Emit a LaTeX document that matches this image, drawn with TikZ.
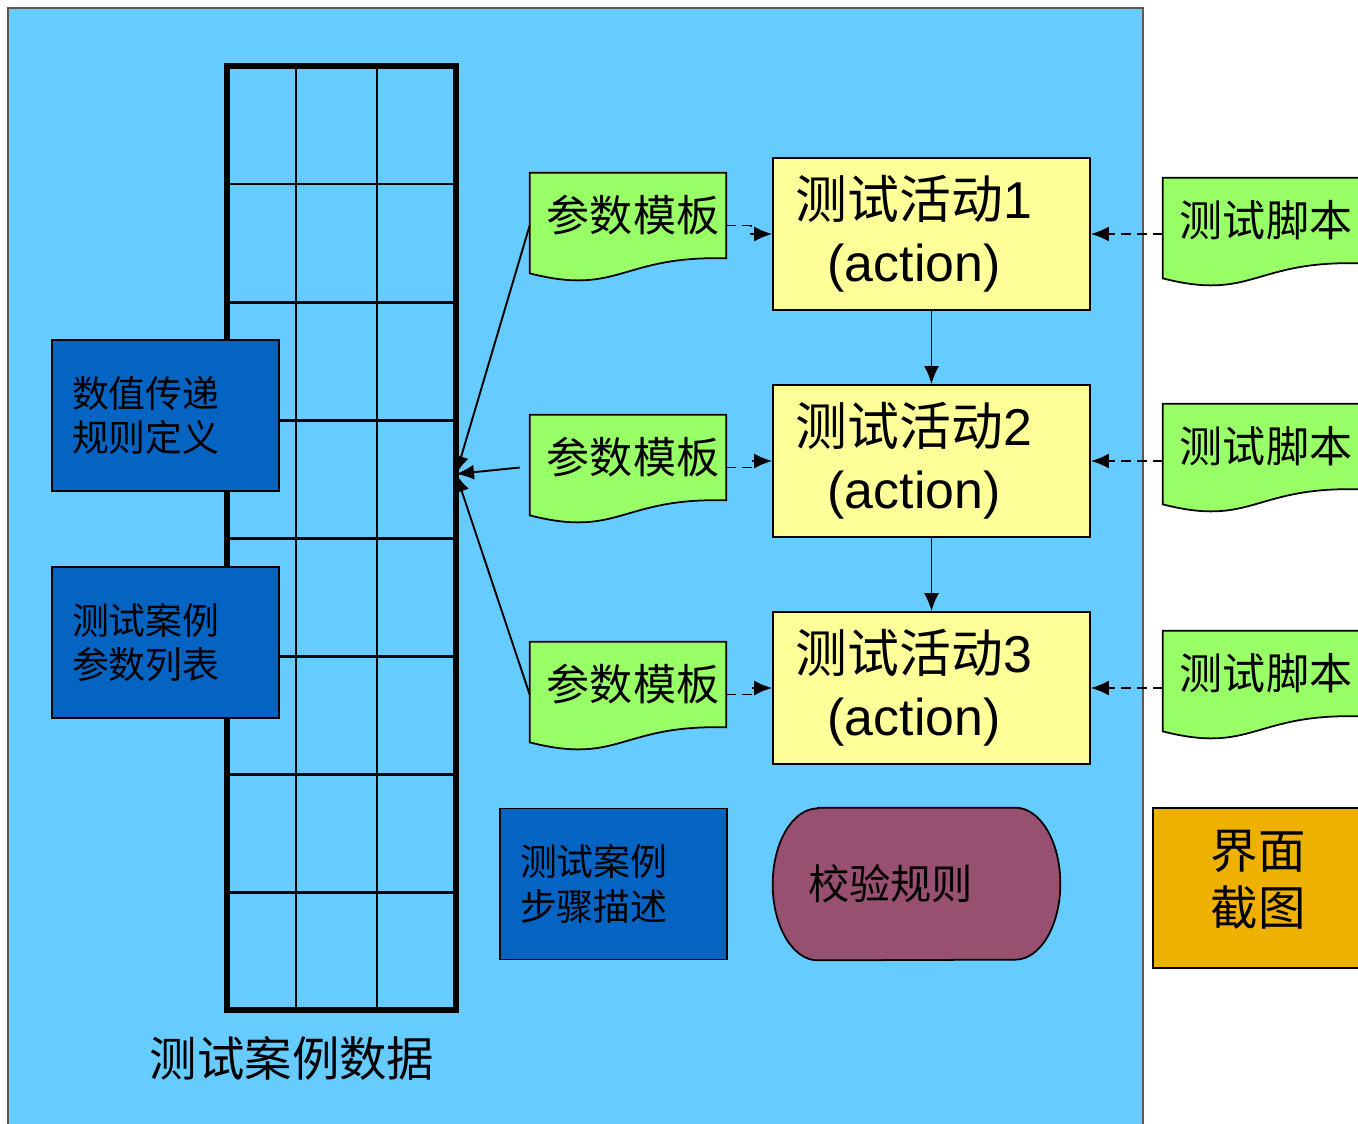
\documentclass[tikz,border=0pt]{standalone}
\usepackage{fontspec}
\setmainfont{Liberation Sans}
\newfontfamily\cjk{Noto Sans CJK SC}
\usetikzlibrary{positioning,arrows.meta,backgrounds}
\definecolor{bgblue}{HTML}{66CCFF}
\definecolor{boxblue}{HTML}{0563C1}
\definecolor{docgreen}{HTML}{99FF66}
\definecolor{actyellow}{HTML}{FFFF99}
\definecolor{rulepurple}{HTML}{985070}
\definecolor{shotorange}{HTML}{EEB100}

\tikzset{
	bluebox/.style={fill=boxblue, draw=black, line width=1pt, minimum width=4.54cm, minimum height=3.02cm, text width=3.74cm, inner xsep=0.4cm, align=left, font=\cjk\fontsize{21}{25.5}\selectfont},
	docbox/.style={minimum width=3.92cm, minimum height=2.1cm, text depth=0.5cm, font=\cjk\fontsize{24.5}{28}\selectfont},
	docline/.style={draw=black, fill=docgreen, line width=1pt},
	actbox/.style={fill=actyellow, draw=black, line width=1pt, minimum width=6.34cm, minimum height=3.04cm, align=center, font=\fontsize{29.5}{36}\selectfont},
	rulebox/.style={minimum width=5.74cm, minimum height=3.04cm, text width=4.34cm, inner xsep=0.7cm, align=left, font=\cjk\fontsize{23.5}{28}\selectfont},
	shotbox/.style={fill=shotorange, draw=black, line width=1pt, minimum width=4.2cm, minimum height=3.2cm, align=center, font=\cjk\fontsize{27}{32.5}\selectfont},
	solidarrow/.style={-{Latex[length=0.36cm,width=0.3cm]}, line width=1.1pt},
	dasharrow/.style={-{Latex[length=0.36cm,width=0.3cm]}, line width=1.1pt, dash pattern=on 0.2cm off 0.12cm},
}

% document shape with wavy bottom
\newcommand\docshape[1]{\draw[docline] (#1.north west) -- (#1.north east) -- ([yshift=0.4cm]#1.south east) .. controls +(-2.12cm,0.06cm) and +(1.8cm,-0.46cm) .. ([yshift=0.1cm]#1.south west) -- cycle;}
% action label, set a little left of the box centre
\newcommand\actlabel[1]{{\cjk 测试活动}#1\hspace*{0.7cm}\\(action)\hspace*{0.7cm}}

\begin{document}
\begin{tikzpicture}[x=0.02cm,y=-0.02cm]
	\useasboundingbox (0,0) rectangle (1358,1123);

	% data grid
	\draw[line width=3.3pt] (227,66) rectangle (456,1010);
	\foreach \y in {184,302,...,892}
		\draw[line width=1.7pt] (227,\y) -- (456,\y);
	\foreach \x in {296,377}
		\draw[line width=1.7pt] (\x,66) -- (\x,1010);
	\coordinate (hub) at (456,474);
	\node[font=\cjk\fontsize{27}{32}\selectfont] (title) at (292,1058) {测试案例数据};

	\node[bluebox] (rule) at (165.5,415.5) {数值传递\\规则定义};
	\node[bluebox] (plist) at (165.5,642.5) {测试案例\\参数列表};
	\node[bluebox] (steps) at (613.5,884) {测试案例\\步骤描述};

	% templates, actions, scripts
	\node[docbox] (p1) at (628,225.5) {\hspace*{0.2cm}参数模板};
	\node[docbox] (p2) at (628,467.5) {\hspace*{0.2cm}参数模板};
	\node[docbox] (p3) at (628,694.5) {\hspace*{0.2cm}参数模板};
	\node[actbox] (a1) at (931.5,234) {\actlabel{1}};
	\node[actbox] (a2) at (931.5,461) {\actlabel{2}};
	\node[actbox] (a3) at (931.5,688) {\actlabel{3}};
	\node[docbox] (s1) at (1261,230.5) {\hspace*{0.2cm}测试脚本};
	\node[docbox] (s2) at (1261,456.5) {\hspace*{0.2cm}测试脚本};
	\node[docbox] (s3) at (1261,683.5) {\hspace*{0.2cm}测试脚本};

	\node[rulebox] (chk) at (916.5,884) {校验规则};
	\node[shotbox] (shot) at (1258,888) {界面\\截图\\[-0.74cm]};

	% connectors
	\draw[solidarrow] (p1.west) -- (hub);
	\draw[solidarrow] ([xshift=-0.2cm]p2.west) -- (hub);
	\draw[solidarrow] (p3.west) -- (hub);
	\foreach \i in {1,2,3} {
		\draw[dasharrow] (p\i.east) -- ++(0.5cm,0) |- (a\i.west);
		\draw[dasharrow] (s\i.west |- a\i.east) -- (a\i.east);
	}
	\draw[solidarrow] (a1.south) -- (a2.north);
	\draw[solidarrow] (a2.south) -- (a3.north);

	\begin{scope}[on background layer]
		\draw[fill=bgblue, draw=gray!70!black, line width=1pt] (8,8) rectangle (1143,1140);
		\docshape{p1}
		\docshape{p2}
		\docshape{p3}
		\docshape{s1}
		\docshape{s2}
		\docshape{s3}
		\draw[fill=rulepurple, line width=1pt] ([xshift=0.9cm]chk.north west) -- ([xshift=-0.9cm]chk.north east) arc[start angle=90, end angle=-90, x radius=0.9cm, y radius=1.52cm] -- ([xshift=0.9cm]chk.south west) arc[start angle=270, end angle=90, x radius=0.9cm, y radius=1.52cm] -- cycle;
	\end{scope}
\end{tikzpicture}
\end{document}
